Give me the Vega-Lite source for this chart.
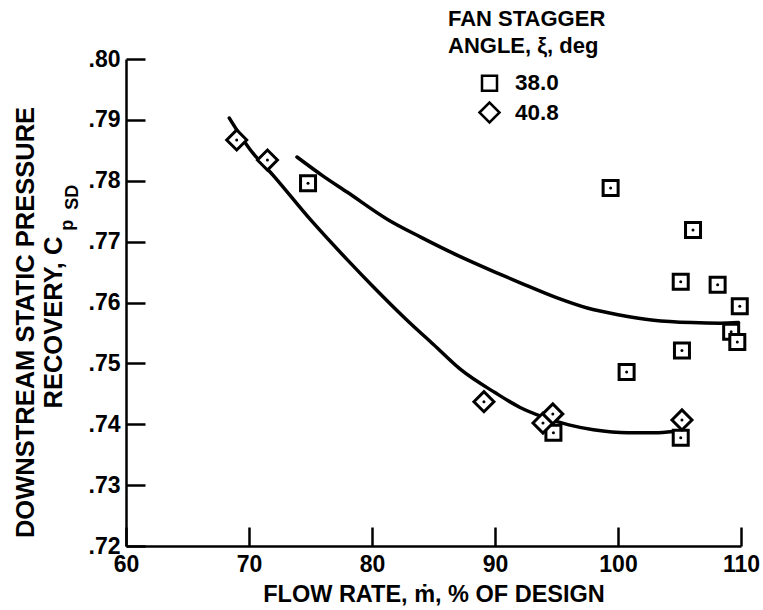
{
  "$schema": "https://vega.github.io/schema/vega-lite/v6.json",
  "width": 615,
  "height": 487,
  "autosize": {"type": "none"},
  "padding": {"left": 126, "top": 59, "right": 22, "bottom": 64},
  "background": "white",
  "config": {
    "view": {"stroke": null},
    "font": "Liberation Sans",
    "axis": {
      "grid": false,
      "domainColor": "black",
      "domainWidth": 2.5,
      "tickColor": "black",
      "tickWidth": 2.5,
      "tickSize": -19,
      "labelFlush": false,
      "labelOverlap": false,
      "labelFont": "Liberation Sans",
      "labelFontWeight": "bold",
      "labelFontSize": 23,
      "labelColor": "black",
      "titleFont": "Liberation Sans",
      "titleFontWeight": "bold",
      "titleColor": "black"
    },
    "legend": {
      "titleFont": "Liberation Sans",
      "titleFontWeight": "bold",
      "titleFontSize": 22,
      "titleColor": "black",
      "labelFont": "Liberation Sans",
      "labelFontWeight": "bold",
      "labelFontSize": 22.5,
      "labelColor": "black"
    }
  },
  "datasets": {
    "points": [
      {"flow": 74.8, "cp": 0.7796, "angle": "38.0"},
      {"flow": 99.4, "cp": 0.7788, "angle": "38.0"},
      {"flow": 106.1, "cp": 0.7719, "angle": "38.0"},
      {"flow": 105.1, "cp": 0.7634, "angle": "38.0"},
      {"flow": 108.1, "cp": 0.7629, "angle": "38.0"},
      {"flow": 109.9, "cp": 0.7594, "angle": "38.0"},
      {"flow": 109.2, "cp": 0.7552, "angle": "38.0"},
      {"flow": 109.7, "cp": 0.7535, "angle": "38.0"},
      {"flow": 105.2, "cp": 0.7521, "angle": "38.0"},
      {"flow": 100.7, "cp": 0.7486, "angle": "38.0"},
      {"flow": 94.75, "cp": 0.7386, "angle": "38.0"},
      {"flow": 105.1, "cp": 0.7378, "angle": "38.0"},
      {"flow": 69.0, "cp": 0.7867, "angle": "40.8"},
      {"flow": 71.5, "cp": 0.7834, "angle": "40.8"},
      {"flow": 89.1, "cp": 0.7437, "angle": "40.8"},
      {"flow": 93.9, "cp": 0.7402, "angle": "40.8"},
      {"flow": 94.7, "cp": 0.7417, "angle": "40.8"},
      {"flow": 105.2, "cp": 0.7407, "angle": "40.8"}
    ],
    "curves": [
      {"flow": 68.4, "cp": 0.7903, "angle": "40.8"},
      {"flow": 70.1, "cp": 0.7851, "angle": "40.8"},
      {"flow": 72.0, "cp": 0.7808, "angle": "40.8"},
      {"flow": 75.0, "cp": 0.7736, "angle": "40.8"},
      {"flow": 78.0, "cp": 0.7670, "angle": "40.8"},
      {"flow": 80.0, "cp": 0.7628, "angle": "40.8"},
      {"flow": 83.0, "cp": 0.7568, "angle": "40.8"},
      {"flow": 85.0, "cp": 0.7531, "angle": "40.8"},
      {"flow": 87.2, "cp": 0.7490, "angle": "40.8"},
      {"flow": 90.0, "cp": 0.7452, "angle": "40.8"},
      {"flow": 92.0, "cp": 0.7428, "angle": "40.8"},
      {"flow": 93.9, "cp": 0.7412, "angle": "40.8"},
      {"flow": 96.0, "cp": 0.7399, "angle": "40.8"},
      {"flow": 98.0, "cp": 0.7391, "angle": "40.8"},
      {"flow": 100.8, "cp": 0.7386, "angle": "40.8"},
      {"flow": 103.0, "cp": 0.7386, "angle": "40.8"},
      {"flow": 104.5, "cp": 0.7388, "angle": "40.8"},
      {"flow": 73.9, "cp": 0.7839, "angle": "38.0"},
      {"flow": 76.0, "cp": 0.7808, "angle": "38.0"},
      {"flow": 78.0, "cp": 0.7781, "angle": "38.0"},
      {"flow": 81.3, "cp": 0.7736, "angle": "38.0"},
      {"flow": 84.0, "cp": 0.7707, "angle": "38.0"},
      {"flow": 87.0, "cp": 0.7677, "angle": "38.0"},
      {"flow": 90.0, "cp": 0.7650, "angle": "38.0"},
      {"flow": 92.1, "cp": 0.7632, "angle": "38.0"},
      {"flow": 95.0, "cp": 0.7608, "angle": "38.0"},
      {"flow": 97.5, "cp": 0.7591, "angle": "38.0"},
      {"flow": 100.0, "cp": 0.7580, "angle": "38.0"},
      {"flow": 102.9, "cp": 0.7571, "angle": "38.0"},
      {"flow": 106.0, "cp": 0.7567, "angle": "38.0"},
      {"flow": 108.3, "cp": 0.7566, "angle": "38.0"},
      {"flow": 109.8, "cp": 0.7567, "angle": "38.0"}
    ],
    "subs": [
      {"flow": 55.25, "cp": 0.7727, "label": "p"},
      {"flow": 55.7, "cp": 0.7773, "label": "SD"}
    ]
  },
  "layer": [
    {
      "data": {"name": "curves"},
      "mark": {"type": "line", "color": "black", "strokeWidth": 3.5, "interpolate": "monotone", "strokeCap": "round"},
      "encoding": {
        "x": {
          "field": "flow", "type": "quantitative",
          "scale": {"domain": [60, 110], "nice": false, "zero": false},
          "axis": {"values": [60, 70, 80, 90, 100, 110], "labelPadding": 26, "titlePadding": 6, "titleFontSize": 23.5, "title": "FLOW RATE, ṁ, % OF DESIGN"}
        },
        "y": {
          "field": "cp", "type": "quantitative",
          "scale": {"domain": [0.72, 0.80], "nice": false, "zero": false},
          "axis": {
            "values": [0.72, 0.73, 0.74, 0.75, 0.76, 0.77, 0.78, 0.79, 0.80],
            "labelExpr": "substring(format(datum.value, '.2f'), 1)",
            "labelPadding": 25,
            "titlePadding": 22,
            "titleFontSize": 25.5,
            "titleLineHeight": 28,
            "titleY": 263,
            "title": ["DOWNSTREAM STATIC PRESSURE", "RECOVERY, C"]
          }
        },
        "detail": {"field": "angle"}
      }
    },
    {
      "data": {"name": "points"},
      "mark": {"type": "point", "filled": false, "fill": "white", "fillOpacity": 1, "stroke": "black", "strokeWidth": 3, "opacity": 1},
      "encoding": {
        "x": {"field": "flow", "type": "quantitative"},
        "y": {"field": "cp", "type": "quantitative"},
        "shape": {
          "field": "angle", "type": "ordinal",
          "scale": {"domain": ["38.0", "40.8"], "range": ["square", "diamond"]},
          "legend": {
            "title": ["FAN STAGGER", "ANGLE, ξ, deg"],
            "orient": "none",
            "legendX": 322,
            "legendY": -50,
            "padding": 0,
            "titlePadding": 14,
            "titleLineHeight": 27,
            "symbolOffset": 30,
            "symbolStrokeColor": "black",
            "symbolStrokeWidth": 2.5,
            "symbolFillColor": "white",
            "labelOffset": 14,
            "rowPadding": 1
          }
        },
        "size": {
          "field": "angle", "type": "ordinal",
          "scale": {"domain": ["38.0", "40.8"], "range": [225, 400]},
          "legend": {
            "title": ["FAN STAGGER", "ANGLE, ξ, deg"],
            "orient": "none",
            "legendX": 322,
            "legendY": -50
          }
        }
      }
    },
    {
      "data": {"name": "points"},
      "mark": {"type": "circle", "color": "black", "size": 9, "opacity": 1},
      "encoding": {
        "x": {"field": "flow", "type": "quantitative"},
        "y": {"field": "cp", "type": "quantitative"}
      }
    },
    {
      "data": {"name": "subs"},
      "mark": {"type": "text", "angle": 270, "font": "Liberation Sans", "fontWeight": "bold", "fontSize": 18, "color": "black", "align": "center", "baseline": "middle", "clip": false},
      "encoding": {
        "x": {"field": "flow", "type": "quantitative"},
        "y": {"field": "cp", "type": "quantitative"},
        "text": {"field": "label"}
      }
    }
  ]
}
